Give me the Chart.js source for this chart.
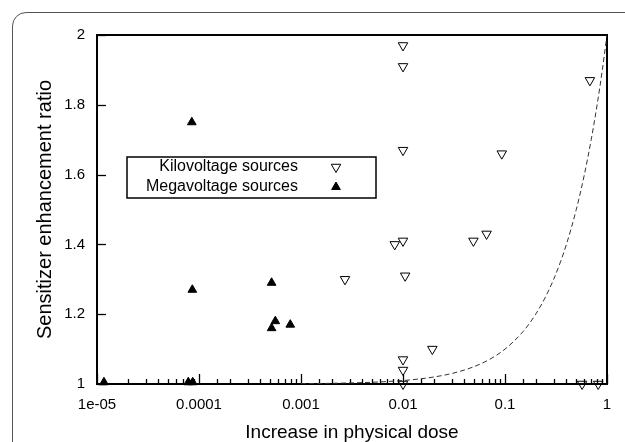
<!DOCTYPE html>
<html><head><meta charset="utf-8">
<script src="https://cdn.jsdelivr.net/npm/chart.js@4/dist/chart.umd.min.js"></script>
<style>
html,body{margin:0;padding:0;background:#fff;overflow:hidden;}
#wrap{position:relative;width:625px;height:442px;overflow:hidden;}
#frame{position:absolute;left:12px;top:12px;width:700px;height:500px;border:1.5px solid #555;border-radius:14px;box-sizing:border-box;}
canvas{position:absolute;left:0;top:0;}
</style></head><body>
<div id="wrap"><div id="frame"></div><canvas id="c" width="625" height="442"></canvas></div>
<script>
// ---- data ----
const seriesLabels = ['Kilovoltage sources', 'Megavoltage sources'];
const kvDose = [0.01, 0.01, 0.68, 0.01, 0.093, 0.0083, 0.01, 0.049, 0.066, 0.0027, 0.0105, 0.0194, 0.01, 0.01, 0.01, 0.57, 0.82];
const kvSER  = [1.97, 1.91, 1.87, 1.67, 1.66, 1.40, 1.41, 1.41, 1.43, 1.30, 1.31, 1.10, 1.07, 1.04, 1.00, 1.00, 1.00];
const mvDose = [0.000085, 0.000086, 0.000515, 0.00056, 0.000515, 0.000785, 0.0000117, 0.0000785, 0.0000867];
const mvSER  = [1.75, 1.27, 1.29, 1.18, 1.16, 1.17, 1.005, 1.005, 1.005];
const refDose = [0.001, 0.002, 0.005, 0.01, 0.015, 0.02, 0.03, 0.05, 0.07, 0.1, 0.15, 0.2, 0.25, 0.3, 0.35, 0.4, 0.5, 0.6, 0.7, 0.8, 0.9, 1.0];
const refSER  = [1.001, 1.002, 1.005, 1.01, 1.015, 1.02, 1.03, 1.05, 1.07, 1.1, 1.15, 1.2, 1.25, 1.3, 1.35, 1.4, 1.5, 1.6, 1.7, 1.8, 1.9, 2.0];
const xTickValues = [1e-5, 1e-4, 1e-3, 1e-2, 1e-1, 1];
const xTickLabels = ['1e-05', '0.0001', '0.001', '0.01', '0.1', '1'];
const yTickValues = [1, 1.2, 1.4, 1.6, 1.8, 2];
const yTickLabels = ['1', '1.2', '1.4', '1.6', '1.8', '2'];
const xTitle = 'Increase in physical dose';
const yTitle = 'Sensitizer enhancement ratio';

const FONT = "'Liberation Sans', Arial, Helvetica, sans-serif";
const toPts = (xs, ys) => xs.map((x, i) => ({x: x, y: ys[i]}));
const isMajor = v => Math.abs(Math.log10(v) - Math.round(Math.log10(v))) < 1e-9;

const deco = {
  id: 'deco',
  beforeDatasetsDraw(chart) {
    const {ctx, chartArea: a, scales: {x, y}} = chart;
    ctx.save();
    ctx.strokeStyle = '#000';
    ctx.lineWidth = 1.3;
    x.ticks.forEach(t => {
      const px = Math.round(x.getPixelForValue(t.value)) + 0.5;
      const len = isMajor(t.value) ? 10 : 5;
      ctx.beginPath(); ctx.moveTo(px, a.bottom); ctx.lineTo(px, a.bottom - len); ctx.stroke();
    });
    y.ticks.forEach(t => {
      const py = Math.round(y.getPixelForValue(t.value)) + 0.5;
      ctx.beginPath(); ctx.moveTo(a.left, py); ctx.lineTo(a.left + 9, py); ctx.stroke();
    });
    ctx.lineWidth = 2;
    ctx.strokeRect(a.left, a.top, a.right - a.left, a.bottom - a.top);
    ctx.restore();
  },
  afterDraw(chart) {
    const {ctx} = chart;
    const o = chart.options.plugins.deco;
    ctx.save();
    ctx.lineWidth = 1.5;
    ctx.strokeStyle = '#000';
    ctx.strokeRect(o.boxX, o.boxY, o.boxW, o.boxH);
    ctx.font = '16px ' + FONT;
    ctx.textAlign = 'right';
    ctx.textBaseline = 'middle';
    chart.data.datasets.slice(0, 2).forEach((ds, i) => {
      const ty = o.rowY + i * o.rowGap;
      ctx.fillStyle = '#000';
      ctx.fillText(ds.label, o.textRight, ty);
      ctx.fillStyle = ds.backgroundColor;
      ctx.strokeStyle = ds.borderColor;
      ctx.lineWidth = ds.borderWidth;
      Chart.helpers.drawPoint(ctx, {
        pointStyle: ds.pointStyle, rotation: ds.rotation, radius: ds.pointRadius, borderWidth: ds.borderWidth
      }, o.markerX, ty);
    });
    ctx.restore();
  }
};

new Chart(document.getElementById('c'), {
  type: 'scatter',
  data: {
    datasets: [
      {label: seriesLabels[0], data: toPts(kvDose, kvSER), pointStyle: 'triangle', rotation: 180,
       pointRadius: 5.5, borderWidth: 1, borderColor: '#000', backgroundColor: 'rgba(255,255,255,0)', clip: false},
      {label: seriesLabels[1], data: toPts(mvDose, mvSER), pointStyle: 'triangle', rotation: 0,
       pointRadius: 5, borderWidth: 1, borderColor: '#000', backgroundColor: '#000', clip: false},
      {label: 'ref', data: toPts(refDose, refSER), showLine: true, pointRadius: 0, borderColor: '#333',
       borderWidth: 1, borderDash: [5, 3], cubicInterpolationMode: 'monotone', fill: false}
    ]
  },
  options: {
    responsive: false, devicePixelRatio: 1, animation: false,
    layout: {padding: {top: 35, right: 18, left: 0, bottom: 0}},
    plugins: {
      legend: {display: false}, tooltip: {enabled: false},
      deco: {boxX: 127, boxY: 157, boxW: 249, boxH: 41, rowY: 167, rowGap: 20, textRight: 298, markerX: 336}
    },
    scales: {
      x: {
        type: 'logarithmic', min: 1e-5, max: 1,
        afterFit(s) { s.height = 58; },
        grid: {display: false, drawTicks: false}, border: {display: false},
        ticks: {autoSkip: false, maxRotation: 0, padding: 12, color: '#000', font: {family: FONT, size: 15},
          callback(v) { const i = xTickValues.findIndex(t => Math.abs(Math.log10(t) - Math.log10(v)) < 1e-9); return i >= 0 ? xTickLabels[i] : ''; }},
        title: {display: true, text: xTitle, color: '#000', font: {family: FONT, size: 19, lineHeight: 1}, padding: {top: 0, bottom: 0}}
      },
      y: {
        min: 1, max: 2,
        afterFit(s) { s.width = 97; },
        afterBuildTicks(s) { s.ticks = yTickValues.map(v => ({value: v})); },
        grid: {display: false, drawTicks: false}, border: {display: false},
        ticks: {padding: 12, color: '#000', font: {family: FONT, size: 15},
          callback(v) { const i = yTickValues.findIndex(t => Math.abs(t - v) < 1e-9); return i >= 0 ? yTickLabels[i] : ''; }},
        title: {display: true, text: yTitle, color: '#000', font: {family: FONT, size: 20, lineHeight: 1}, padding: {top: 35, bottom: 0}}
      }
    }
  },
  plugins: [deco]
});
</script>
</body></html>
